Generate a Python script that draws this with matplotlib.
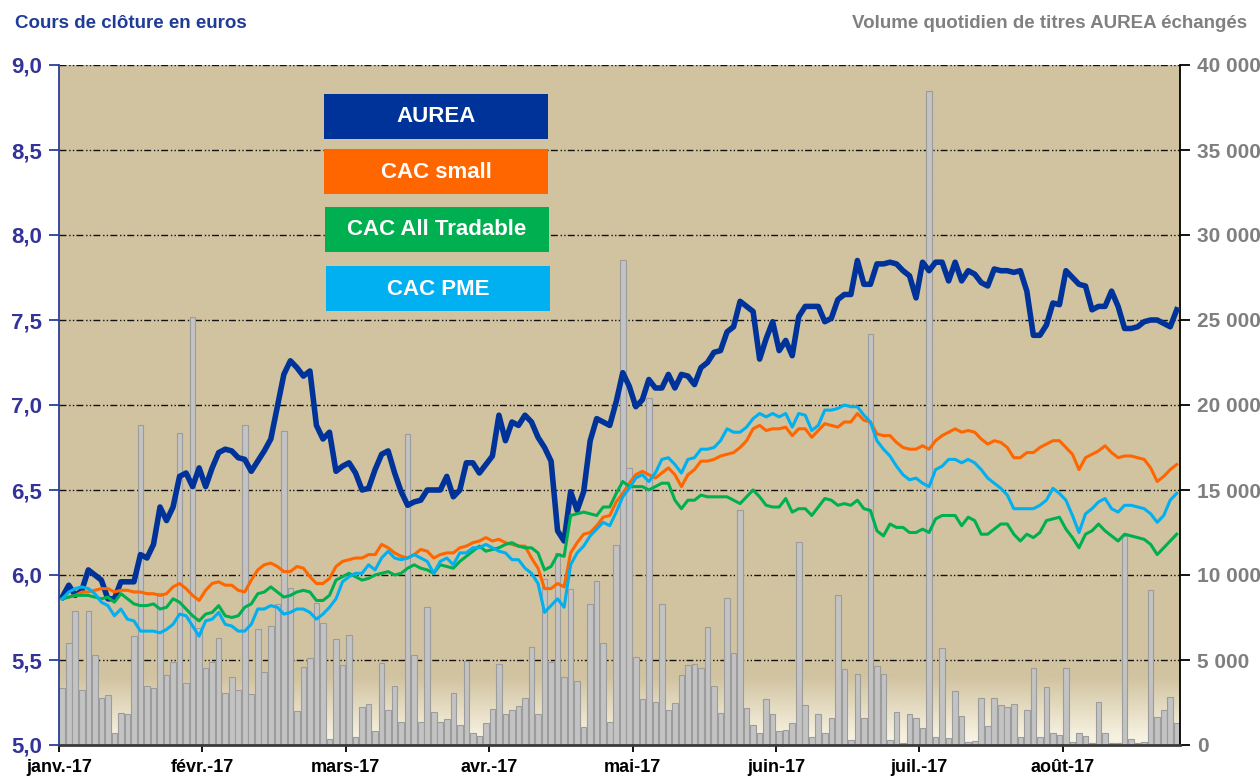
import numpy as np
import matplotlib
matplotlib.use("Agg")
from matplotlib import pyplot as plt
from matplotlib.patches import Rectangle

plt.rcParams['font.family'] = ['Liberation Sans', 'DejaVu Sans']

months = ["janv.-17", "févr.-17", "mars-17", "avr.-17", "mai-17", "juin-17", "juil.-17", "août-17"]
series_names = ["AUREA", "CAC small", "CAC All Tradable", "CAC PME"]
series_colors = ["#003399", "#FF6600", "#00B050", "#00B0F0"]
price_ticks = [5.0, 5.5, 6.0, 6.5, 7.0, 7.5, 8.0, 8.5, 9.0]
price_labels = ["5,0", "5,5", "6,0", "6,5", "7,0", "7,5", "8,0", "8,5", "9,0"]
vol_ticks = [0, 5000, 10000, 15000, 20000, 25000, 30000, 35000, 40000]
vol_labels = ["0", "5 000", "10 000", "15 000", "20 000", "25 000", "30 000", "35 000", "40 000"]

aurea = [5.87, 5.94, 5.88, 5.91, 6.03, 6.00, 5.97, 5.86, 5.86, 5.96, 5.96, 5.96, 6.12, 6.10, 6.18, 6.40, 6.32, 6.40, 6.58, 6.60, 6.52, 6.63, 6.52, 6.63, 6.72, 6.74, 6.73, 6.69, 6.68,
         6.61, 6.67, 6.73, 6.80, 6.99, 7.18, 7.26, 7.22, 7.17, 7.20, 6.88, 6.80, 6.84, 6.61, 6.64, 6.66, 6.60, 6.50, 6.51, 6.62, 6.71, 6.73, 6.60, 6.49, 6.41, 6.43, 6.44, 6.50,
         6.50, 6.50, 6.58, 6.46, 6.50, 6.66, 6.66, 6.60, 6.65, 6.70, 6.94, 6.79, 6.90, 6.88, 6.94, 6.90, 6.81, 6.75, 6.67, 6.26, 6.20, 6.49, 6.38, 6.49, 6.79, 6.92, 6.90, 6.88, 7.02,
         7.19, 7.11, 6.99, 7.03, 7.15, 7.10, 7.10, 7.18, 7.10, 7.18, 7.17, 7.12, 7.22, 7.25, 7.31, 7.32, 7.43, 7.46, 7.61, 7.58, 7.55, 7.27, 7.39, 7.49, 7.32, 7.38, 7.29, 7.52,
         7.58, 7.58, 7.58, 7.49, 7.51, 7.62, 7.65, 7.65, 7.85, 7.71, 7.71, 7.83, 7.83, 7.84, 7.83, 7.79, 7.76, 7.63, 7.84, 7.79, 7.84, 7.84, 7.73, 7.84, 7.73, 7.79, 7.77, 7.72,
         7.70, 7.80, 7.79, 7.79, 7.78, 7.79, 7.67, 7.41, 7.41, 7.47, 7.60, 7.59, 7.79, 7.75, 7.71, 7.70, 7.56, 7.58, 7.58, 7.67, 7.58, 7.45, 7.45, 7.46, 7.49, 7.50, 7.50, 7.48, 7.46, 7.56]

cac_small = [5.86, 5.87, 5.88, 5.90, 5.90, 5.91, 5.92, 5.92, 5.90, 5.91, 5.91, 5.90, 5.90, 5.89, 5.89, 5.88, 5.89, 5.93, 5.95, 5.92, 5.88, 5.85, 5.91, 5.95, 5.96, 5.94, 5.94, 5.91, 5.90,
             5.97, 6.03, 6.06, 6.07, 6.05, 6.02, 6.02, 6.05, 6.04, 5.99, 5.95, 5.95, 5.98, 6.05, 6.08, 6.09, 6.10, 6.10, 6.12, 6.12, 6.18, 6.16, 6.13, 6.11, 6.10, 6.12, 6.15, 6.14,
             6.10, 6.12, 6.13, 6.13, 6.16, 6.17, 6.19, 6.20, 6.22, 6.20, 6.21, 6.19, 6.18, 6.17, 6.17, 6.10, 6.04, 5.92, 5.92, 5.95, 5.93, 6.13, 6.19, 6.24, 6.25, 6.29, 6.34, 6.35, 6.43,
             6.48, 6.54, 6.59, 6.61, 6.59, 6.57, 6.60, 6.63, 6.59, 6.52, 6.59, 6.62, 6.67, 6.67, 6.68, 6.70, 6.71, 6.72, 6.75, 6.79, 6.86, 6.88, 6.85, 6.86, 6.86, 6.87, 6.82, 6.86,
             6.86, 6.81, 6.85, 6.89, 6.88, 6.87, 6.90, 6.90, 6.95, 6.91, 6.90, 6.83, 6.82, 6.82, 6.78, 6.75, 6.74, 6.74, 6.76, 6.74, 6.79, 6.82, 6.84, 6.86, 6.84, 6.85, 6.84, 6.80,
             6.77, 6.79, 6.78, 6.75, 6.69, 6.69, 6.72, 6.72, 6.75, 6.77, 6.79, 6.79, 6.75, 6.71, 6.62, 6.69, 6.71, 6.73, 6.76, 6.72, 6.69, 6.70, 6.70, 6.69, 6.68, 6.63, 6.55, 6.58, 6.62, 6.65]

cac_all = [5.86, 5.87, 5.88, 5.88, 5.88, 5.87, 5.86, 5.87, 5.84, 5.89, 5.86, 5.83, 5.82, 5.82, 5.83, 5.80, 5.81, 5.86, 5.84, 5.80, 5.76, 5.73, 5.77, 5.78, 5.82, 5.76, 5.75, 5.76, 5.81,
           5.83, 5.89, 5.90, 5.93, 5.90, 5.87, 5.88, 5.90, 5.91, 5.90, 5.85, 5.85, 5.88, 5.97, 5.99, 6.01, 5.99, 5.97, 5.98, 6.00, 6.01, 6.02, 6.00, 6.01, 6.04, 6.06, 6.04, 6.03,
           6.01, 6.06, 6.05, 6.04, 6.08, 6.11, 6.14, 6.17, 6.14, 6.15, 6.16, 6.18, 6.19, 6.17, 6.16, 6.16, 6.13, 6.03, 6.05, 6.12, 6.11, 6.35, 6.36, 6.37, 6.36, 6.35, 6.40, 6.40, 6.48,
           6.55, 6.52, 6.52, 6.52, 6.50, 6.52, 6.54, 6.54, 6.44, 6.39, 6.44, 6.44, 6.47, 6.46, 6.46, 6.46, 6.46, 6.44, 6.42, 6.46, 6.50, 6.46, 6.41, 6.40, 6.40, 6.45, 6.37, 6.39,
           6.39, 6.35, 6.40, 6.45, 6.44, 6.41, 6.42, 6.41, 6.44, 6.39, 6.38, 6.26, 6.23, 6.30, 6.28, 6.28, 6.25, 6.25, 6.27, 6.25, 6.33, 6.35, 6.35, 6.35, 6.29, 6.34, 6.32, 6.24,
           6.24, 6.27, 6.30, 6.30, 6.24, 6.20, 6.24, 6.22, 6.25, 6.32, 6.33, 6.34, 6.27, 6.22, 6.16, 6.24, 6.26, 6.30, 6.26, 6.23, 6.20, 6.24, 6.23, 6.22, 6.21, 6.18, 6.12, 6.16, 6.20, 6.24]

cac_pme = [5.86, 5.90, 5.92, 5.93, 5.92, 5.89, 5.84, 5.82, 5.76, 5.80, 5.74, 5.73, 5.67, 5.67, 5.67, 5.66, 5.68, 5.71, 5.77, 5.76, 5.70, 5.64, 5.73, 5.74, 5.78, 5.71, 5.70, 5.67, 5.67,
           5.71, 5.80, 5.80, 5.82, 5.81, 5.77, 5.78, 5.80, 5.80, 5.78, 5.74, 5.77, 5.81, 5.86, 5.96, 5.99, 6.01, 6.01, 6.06, 6.03, 6.10, 6.14, 6.10, 6.09, 6.10, 6.12, 6.10, 6.08,
           6.01, 6.08, 6.10, 6.06, 6.13, 6.13, 6.16, 6.16, 6.18, 6.16, 6.14, 6.13, 6.09, 6.09, 6.04, 6.01, 5.95, 5.78, 5.82, 5.86, 5.81, 6.06, 6.13, 6.17, 6.23, 6.27, 6.31, 6.29, 6.37,
           6.46, 6.51, 6.57, 6.59, 6.55, 6.60, 6.68, 6.69, 6.65, 6.60, 6.68, 6.69, 6.74, 6.74, 6.75, 6.79, 6.86, 6.84, 6.84, 6.87, 6.92, 6.95, 6.93, 6.95, 6.93, 6.95, 6.87, 6.95,
           6.94, 6.85, 6.88, 6.97, 6.97, 6.98, 7.00, 6.99, 6.99, 6.94, 6.90, 6.79, 6.74, 6.70, 6.64, 6.59, 6.56, 6.57, 6.54, 6.52, 6.62, 6.64, 6.68, 6.68, 6.66, 6.68, 6.66, 6.62,
           6.57, 6.54, 6.51, 6.47, 6.39, 6.39, 6.39, 6.39, 6.41, 6.44, 6.51, 6.48, 6.44, 6.35, 6.25, 6.36, 6.39, 6.43, 6.45, 6.39, 6.37, 6.41, 6.41, 6.40, 6.39, 6.36, 6.31, 6.35, 6.44, 6.48]

volume = [3330, 5980, 7900, 3230, 7900, 5290, 2740, 2940, 725, 1900, 1820, 6410, 18800, 3470, 3370, 8920, 4100, 4860, 18330, 3670, 25200, 6900, 4510, 4900, 6270, 3080, 4020, 3230, 18800,
          2980, 6800, 4310, 7000, 8290, 18460, 9250, 2000, 4600, 5100, 8330, 7190, 350, 6210, 4680, 6500, 490, 2210, 2410, 820, 4800, 2060, 3470, 1370, 18270, 5290, 1370, 8100,
          1920, 1370, 1510, 3040, 1180, 4940, 690, 530, 1310, 2140, 4740, 1800, 2060, 2290, 2780, 5740, 1820, 9740, 4900, 11270, 3980, 9150, 3760, 1080, 8270, 9660, 6020, 1370, 11760,
          28500, 16270, 5190, 2690, 20420, 2550, 8270, 2060, 2490, 4120, 4680, 4740, 4550, 6920, 3470, 1860, 8620, 5430, 13820, 2200, 1180, 690, 2690, 1800, 820, 880, 1310, 11920,
          2350, 450, 1800, 690, 1570, 8820, 4450, 290, 4170, 1570, 24170, 4660, 4170, 290, 1920, 140, 1800, 1570, 1020, 38500, 450, 5680, 390, 3190, 1700, 200, 240, 2740,
          1140, 2740, 2350, 2210, 2410, 450, 2060, 4510, 490, 3390, 690, 590, 4510, 200, 690, 530, 100, 2550, 730, 100, 100, 12290, 350, 100, 160, 9110, 1630, 2060, 2840, 1270]

W, H = 1260, 778
n = len(volume)
idx = np.arange(n)

fig = plt.figure(figsize=(W / 100, H / 100), dpi=100)
ax_v = fig.add_axes([59 / W, 33 / H, 1121 / W, 680 / H])
ax = ax_v.twinx()

# tan background fading to cream near the bottom
gv = np.linspace(0, 40000, 400)
t = np.clip((gv - 500) / 3500, 0, 1)
tan = np.array([209, 195, 160]) / 255
cream = np.array([246, 241, 224]) / 255
img = cream[None, :] * (1 - t[:, None]) + tan[None, :] * t[:, None]
ax_v.imshow(img[:, None, :], aspect='auto', origin='lower',
            extent=[-0.5, n - 0.5, 0, 40000], zorder=0)

for v in vol_ticks[1:]:
    ax_v.axhline(v, color='#111111', lw=1.0, dashes=(5, 2, 1, 1.6, 1, 1.6), zorder=1)

ax_v.bar(idx, volume, width=0.86, color='#C3C3C3', edgecolor='#9C9C9C', linewidth=0.8, zorder=2)

ax.plot(idx, aurea, color=series_colors[0], lw=4.0, solid_joinstyle='round')
ax.plot(idx, cac_small, color=series_colors[1], lw=2.2)
ax.plot(idx, cac_all, color=series_colors[2], lw=2.2)
ax.plot(idx, cac_pme, color=series_colors[3], lw=2.2)

ax_v.set_xlim(-0.5, n - 0.5)
ax_v.set_ylim(0, 40000)
ax.set_ylim(5, 9)

ax_v.yaxis.tick_right()
ax.yaxis.tick_left()
ax.yaxis.set_label_position('left')

ax_v.set_xticks(np.arange(0, n, 22) - 0.5)
ax_v.set_xticklabels(months, fontsize=13, fontweight='bold', color='black')
ax_v.tick_params(axis='x', length=5, width=1.3, color='black', pad=5)

ax_v.set_yticks(vol_ticks)
ax_v.set_yticklabels(vol_labels, fontsize=15, fontweight='bold', color='#7F7F7F',
                     family=['Liberation Sans Narrow', 'Liberation Sans'])
ax_v.tick_params(axis='y', length=7, width=1.3, color='black', pad=5)

ax.set_yticks(price_ticks)
ax.set_yticklabels(price_labels, fontsize=16, fontweight='bold', color='#333399')
ax.tick_params(axis='y', length=7, width=1.3, color='#2B3F99', pad=5)

for s in ['top', 'left']:
    ax_v.spines[s].set_visible(False)
ax_v.spines['right'].set_color('black')
ax_v.spines['right'].set_linewidth(1.3)
ax_v.spines['bottom'].set_color('#3A3A3A')
ax_v.spines['bottom'].set_linewidth(2)
for s in ['top', 'right', 'bottom']:
    ax.spines[s].set_visible(False)
ax.spines['left'].set_color('#2B3F99')
ax.spines['left'].set_linewidth(1.3)

fig.text(15 / W, 1 - 23 / H, "Cours de clôture en euros", color='#1F3C96',
         fontsize=13.5, fontweight='bold', ha='left', va='center')
fig.text(1247 / W, 1 - 23 / H, "Volume quotidien de titres AUREA échangés", color='#808080',
         fontsize=13.5, fontweight='bold', ha='right', va='center')

# legend as coloured boxes
box_pos = [(324, 94), (324, 149), (325, 207), (326, 266)]
for (bx, by), name, col in zip(box_pos, series_names, series_colors):
    fig.patches.append(Rectangle((bx / W, 1 - (by + 45) / H), 224 / W, 45 / H,
                                 transform=fig.transFigure, facecolor=col,
                                 edgecolor='none', zorder=5))
    fig.text((bx + 112) / W, 1 - (by + 23) / H, name, color='white', fontsize=16,
             fontweight='bold', ha='center', va='center', zorder=6)

fig.savefig("out.png", dpi=100)
